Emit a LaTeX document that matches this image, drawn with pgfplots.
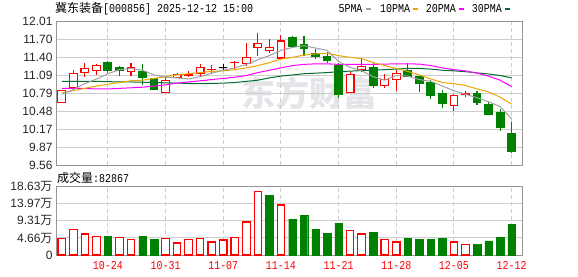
\documentclass[border=0pt]{standalone}
\usepackage{fontspec}
\usepackage{pgfplots}
\usepackage{pgfplotstable}
\pgfplotsset{compat=1.18}
\usepgfplotslibrary{statistics}
\setmainfont{Liberation Sans}
\newfontfamily\cjk{Noto Sans CJK SC}
\newfontfamily\mono[FakeStretch=0.833]{Liberation Mono}
\definecolor{kgreen}{RGB}{0,128,0}
\definecolor{magray}{RGB}{160,160,160}
\definecolor{maorange}{RGB}{240,165,0}
\definecolor{mamag}{RGB}{255,0,255}
\definecolor{magreen}{RGB}{0,110,50}
\definecolor{wm}{RGB}{228,228,233}
\definecolor{frame}{RGB}{150,150,150}
\definecolor{gridc}{RGB}{205,205,205}

\pgfplotstableread{
i o c h l lo hi
0 10.63 10.84 10.85 10.62 10.63 10.84
1 10.89 11.13 11.18 10.88 10.89 11.13
2 11.14 11.21 11.30 11.07 11.14 11.21
3 11.17 11.26 11.29 11.10 11.17 11.26
4 11.31 11.17 11.33 11.13 11.17 11.31
5 11.22 11.18 11.25 11.09 11.18 11.22
6 11.16 11.22 11.30 11.09 11.16 11.22
7 11.16 11.05 11.29 10.93 11.05 11.16
8 11.03 10.86 11.05 10.85 10.86 11.03
9 10.80 11.01 11.06 10.80 10.80 11.01
10 11.05 11.10 11.14 11.05 11.05 11.10
11 11.09 11.10 11.17 11.06 11.09 11.10
12 11.13 11.23 11.29 11.08 11.13 11.23
13 11.19 11.20 11.27 11.12 11.19 11.20
14 11.22 11.22 11.28 11.18 11.22 11.22
15 11.31 11.32 11.34 11.20 11.31 11.32
16 11.30 11.40 11.64 11.25 11.30 11.40
17 11.57 11.63 11.81 11.43 11.57 11.63
18 11.51 11.57 11.71 11.47 11.51 11.57
19 11.39 11.68 11.78 11.39 11.39 11.68
20 11.74 11.59 11.77 11.59 11.59 11.74
21 11.62 11.56 11.77 11.42 11.56 11.62
22 11.47 11.41 11.54 11.37 11.41 11.47
23 11.42 11.34 11.49 11.30 11.34 11.42
24 11.26 10.76 11.31 10.71 10.76 11.26
25 10.80 11.10 11.17 10.80 10.80 11.10
26 11.20 11.25 11.38 11.15 11.20 11.25
27 11.22 10.92 11.30 10.87 10.92 11.22
28 10.92 11.02 11.11 10.87 10.92 11.02
29 11.02 11.13 11.18 10.83 11.02 11.13
30 11.17 11.08 11.30 11.07 11.08 11.17
31 11.07 10.96 11.08 10.81 10.96 11.07
32 10.97 10.75 11.01 10.68 10.75 10.97
33 10.79 10.61 10.85 10.53 10.61 10.79
34 10.57 10.75 10.77 10.49 10.57 10.75
35 10.76 10.79 10.83 10.72 10.76 10.79
36 10.79 10.63 10.83 10.59 10.63 10.79
37 10.59 10.43 10.63 10.43 10.43 10.59
38 10.45 10.20 10.51 10.14 10.20 10.45
39 10.09 9.80 10.30 9.77 9.80 10.09
}\candles

\pgfplotstableread{
i ma5 ma10 ma20 ma30
0 10.77 10.79 10.87 10.99
1 10.85 10.83 10.87 10.99
2 10.95 10.87 10.87 10.99
3 11.03 10.91 10.86 10.99
4 11.12 10.94 10.86 10.985
5 11.19 10.97 10.87 10.98
6 11.21 11.00 10.88 10.98
7 11.18 11.01 10.89 10.975
8 11.10 11.04 10.91 10.97
9 11.06 11.07 10.93 10.965
10 11.05 11.10 10.96 10.96
11 11.03 11.12 10.98 10.955
12 11.07 11.14 11.00 10.95
13 11.13 11.16 11.02 10.955
14 11.18 11.17 11.04 10.96
15 11.22 11.19 11.06 10.97
16 11.28 11.22 11.09 10.99
17 11.36 11.26 11.14 11.01
18 11.43 11.31 11.18 11.05
19 11.52 11.37 11.22 11.08
20 11.57 11.40 11.26 11.10
21 11.60 11.44 11.28 11.12
22 11.56 11.46 11.29 11.13
23 11.52 11.47 11.29 11.14
24 11.33 11.43 11.28 11.155
25 11.23 11.40 11.28 11.165
26 11.17 11.38 11.28 11.175
27 11.07 11.31 11.28 11.18
28 11.01 11.26 11.285 11.19
29 11.09 11.21 11.29 11.20
30 11.08 11.16 11.29 11.21
31 11.02 11.10 11.285 11.21
32 10.99 11.03 11.26 11.20
33 10.91 10.97 11.22 11.18
34 10.83 10.95 11.19 11.17
35 10.77 10.92 11.17 11.155
36 10.71 10.86 11.13 11.135
37 10.64 10.81 11.08 11.115
38 10.56 10.72 11.01 11.09
39 10.35 10.60 10.90 11.05
}\ma

\pgfplotstableread{
i v
0 4.54
1 7.00
2 5.73
3 5.09
5 4.82
6 4.27
9 4.54
10 3.27
11 4.27
12 4.54
13 3.54
14 4.09
15 4.82
16 9.00
17 17.36
19 13.63
25 6.73
26 5.73
28 4.27
29 3.54
34 3.54
35 2.91
}\vred

\pgfplotstableread{
i v
4 5.18
7 5.18
8 4.36
18 16.18
20 9.81
21 10.90
22 7.09
23 6.00
24 8.72
27 6.27
30 4.63
31 4.36
32 4.36
33 4.63
36 3.00
37 3.82
38 4.91
39 8.29
}\vgreen

\pgfplotsset{
  kstyle/.style={
    scale only axis, width=466pt,
    xmin=-0.5, xmax=39.9,
    axis line style={draw=frame, line width=1pt},
    tick style={draw=none},
    xtick={4,9,14,19,24,29,34,39},
    xmajorgrids, ymajorgrids,
    every axis x grid/.style={gridc, dash pattern=on 4pt off 3pt, line width=0.9pt},
    every axis y grid/.style={gridc, line width=0.9pt},
    yticklabel style={font=\fontsize{12}{14}\selectfont, text=black!85, inner sep=0pt, anchor=east, xshift=-3.3pt},
    clip=true,
  },
  bstyle/.style={boxplot/draw direction=y, boxplot/box extend=0.67, boxplot/whisker extend=0, line width=1.1pt, solid},
  kred/.style={bstyle, draw=red, fill=white},
  kgrn/.style={bstyle, draw=kgreen, fill=kgreen},
  kblk/.style={bstyle, draw=black, fill=black},
}

% draws candle number #1 (row of \candles) with style #2
\newcommand{\candle}[2]{%
  \pgfplotstablegetelem{#1}{l}\of\candles \let\cvl\pgfplotsretval
  \pgfplotstablegetelem{#1}{h}\of\candles \let\cvh\pgfplotsretval
  \pgfplotstablegetelem{#1}{lo}\of\candles \let\cvlo\pgfplotsretval
  \pgfplotstablegetelem{#1}{hi}\of\candles \let\cvhi\pgfplotsretval
  \edef\tmp{\noexpand\addplot[#2, boxplot prepared={draw position=#1, lower whisker=\cvl, upper whisker=\cvh, lower quartile=\cvlo, upper quartile=\cvhi, median=\cvhi}] coordinates {};}%
  \tmp
}

\begin{document}
\begin{tikzpicture}[x=1pt,y=1pt]
\useasboundingbox (0,0) rectangle (578,276);
% watermark
\node[text=wm, font=\fontsize{34}{36}\selectfont\cjk\bfseries, inner sep=0pt] at (309,182.5) {东方财富};
% title
\node[anchor=west, inner sep=0pt, font=\fontsize{12}{14}\selectfont] at (55,267.7) {\cjk 冀东装备\mono[000856] 2025-12-12 15:00};
% legend
\begin{scope}[font=\fontsize{12}{14}\selectfont\mono]
\node[anchor=west, inner sep=0pt] at (338.3,267) {5PMA};
\draw[magray, line width=2.5pt] (365.7,267) -- (370.7,267);
\node[anchor=west, inner sep=0pt] at (380,267) {10PMA};
\draw[maorange, line width=2.5pt] (412.7,267) -- (417.7,267);
\node[anchor=west, inner sep=0pt] at (425.7,267) {20PMA};
\draw[mamag, line width=2.5pt] (459,267) -- (464,267);
\node[anchor=west, inner sep=0pt] at (471.7,267) {30PMA};
\draw[magreen, line width=2.5pt] (505,267) -- (510,267);
\end{scope}
% volume label
\node[anchor=west, inner sep=0pt, font=\fontsize{12}{14}\selectfont] at (57,97.7) {\cjk 成交量\mono:82867};

\begin{axis}[kstyle, at={(56pt,111pt)}, anchor=south west, height=143.3pt,
  ymin=9.56, ymax=12.01,
  ytick={9.56,9.86625,10.1725,10.47875,10.785,11.09125,11.3975,11.70375,12.01},
  yticklabels={9.56,9.87,10.17,10.48,10.79,11.09,11.40,11.70,12.01},
  xticklabels={}]
\pgfplotsinvokeforeach{0,1,2,3,6,9,10,11,12,13,15,16,17,18,19,25,26,28,29,34,35}{\candle{#1}{kred}}
\pgfplotsinvokeforeach{4,5,7,8,20,21,22,23,24,27,30,31,32,33,36,37,38,39}{\candle{#1}{kgrn}}
\candle{14}{kblk}
\addplot[magreen, line width=1pt] table[x=i, y=ma30] {\ma};
\addplot[mamag, line width=1pt] table[x=i, y=ma20] {\ma};
\addplot[maorange, line width=1pt] table[x=i, y=ma10] {\ma};
\addplot[magray, line width=1pt] table[x=i, y=ma5] {\ma};
\end{axis}

\begin{axis}[kstyle, at={(56pt,21pt)}, anchor=south west, height=68.3pt,
  ymin=0, ymax=18.63,
  ytick={0,4.6575,9.315,13.9725,18.63},
  yticklabels={0,4.66{\cjk 万},9.31{\cjk 万},13.97{\cjk 万},18.63{\cjk 万}},
  xticklabels={10-24,10-31,11-07,11-14,11-21,11-28,12-05,12-12},
  xticklabel style={font=\fontsize{12}{14}\selectfont\mono, text=red, inner sep=0pt, anchor=north, yshift=-6.5pt}]
\addplot[ybar, bar width=0.65, bar shift=0pt, draw=red, fill=white, line width=1.1pt, solid] table[x=i, y=v] {\vred};
\addplot[ybar, bar width=0.65, bar shift=0pt, draw=kgreen, fill=kgreen, solid] table[x=i, y=v] {\vgreen};
\end{axis}
\end{tikzpicture}
\end{document}
